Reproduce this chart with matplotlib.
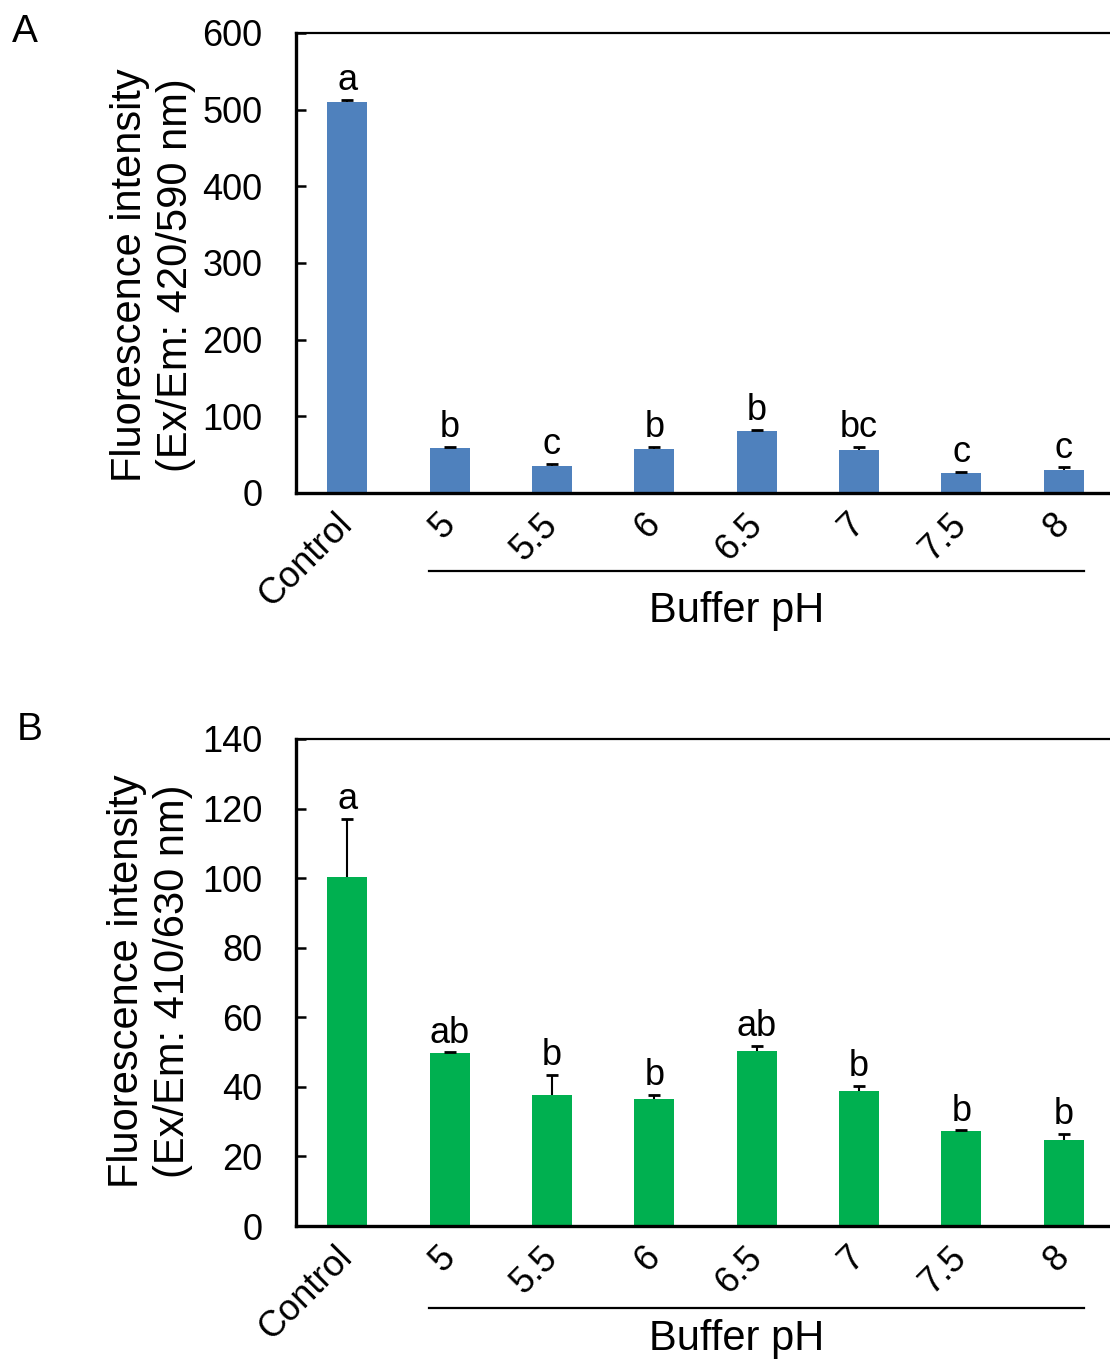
import matplotlib
matplotlib.use("Agg")
import matplotlib.pyplot as plt
import matplotlib.transforms as mtransforms
from matplotlib.lines import Line2D

plt.rcParams['font.family'] = ['Liberation Sans', 'DejaVu Sans']

categories = ["Control", "5", "5.5", "6", "6.5", "7", "7.5", "8"]

values_a = [510, 59, 35, 58, 81, 56, 25.5, 29.5]
errors_a = [3, 1.5, 3, 2, 1.3, 4, 2.5, 4]
letters_a = ["a", "b", "c", "b", "b", "bc", "c", "c"]
yticks_a = [0, 100, 200, 300, 400, 500, 600]

values_b = [100.4, 49.6, 37.6, 36.6, 50.4, 38.8, 27.2, 24.6]
errors_b = [16.6, 0.3, 5.8, 1.0, 1.3, 1.4, 0.3, 1.8]
letters_b = ["a", "ab", "b", "b", "ab", "b", "b", "b"]
yticks_b = [0, 20, 40, 60, 80, 100, 120, 140]

W, H = 1110, 1359
fig = plt.figure(figsize=(W / 100, H / 100), dpi=100)


def px_axes(left, top, right, bottom):
    return fig.add_axes([left / W, 1 - bottom / H, (right - left) / W, (bottom - top) / H])


def draw_panel(ax, vals, errs, letters, yticks, color, ylabel, ylabel_xy, label, label_xy,
               line_y, buffer_y):
    x = list(range(len(categories)))
    ax.bar(x, vals, width=0.39, color=color, edgecolor='none', zorder=2)
    eb = ax.errorbar(x, vals, yerr=[[0] * len(errs), errs], fmt='none', ecolor='black',
                     elinewidth=1.5, capsize=4.3, capthick=2, zorder=3)
    caplines = eb[1]
    if len(caplines) == 2:
        caplines[0].set_visible(False)
    for xi, v, e, t in zip(x, vals, errs, letters):
        ax.annotate(t, xy=(xi, v + e), xytext=(0, 7), textcoords='offset points',
                    ha='center', va='baseline', fontsize=26)
    ax.set_xlim(-0.5, len(categories) - 0.5)
    ax.set_ylim(yticks[0], yticks[-1])
    ax.set_yticks(yticks)
    ax.set_yticklabels([str(t) for t in yticks], fontsize=26)
    ax.tick_params(axis='y', direction='in', length=7, width=1.8, pad=24)
    ax.tick_params(axis='x', length=0, pad=19)
    ax.set_xticks(x)
    ax.set_xticklabels(categories, fontsize=26, rotation=45, ha='right', va='center',
                       rotation_mode='anchor')
    for s in ['left', 'bottom']:
        ax.spines[s].set_linewidth(2.4)
    for s in ['top', 'right']:
        ax.spines[s].set_linewidth(1.6)
    # group line under pH labels
    trans = mtransforms.blended_transform_factory(ax.transData, fig.transFigure)
    fig.add_artist(Line2D([1 - 0.2, 7 + 0.2], [1 - line_y / H] * 2, transform=trans,
                          color='black', lw=1.6))
    ax.text(3.8, 1 - buffer_y / H, "Buffer pH", transform=trans, ha='center',
            va='baseline', fontsize=30)
    fig.text(ylabel_xy[0] / W, 1 - ylabel_xy[1] / H, ylabel, rotation=90, ha='center',
             va='center', multialignment='center', fontsize=30, linespacing=1.2)
    fig.text(label_xy[0] / W, 1 - label_xy[1] / H, label, ha='left', va='baseline',
             fontsize=28)


ax_a = px_axes(296, 33, 1115, 493)
draw_panel(ax_a, values_a, errors_a, letters_a, yticks_a, '#4F81BD',
           "Fluorescence intensity\n(Ex/Em: 420/590 nm)", (153, 275), "A", (12, 42),
           571, 622)

ax_b = px_axes(296, 739, 1115, 1226)
draw_panel(ax_b, values_b, errors_b, letters_b, yticks_b, '#00B050',
           "Fluorescence intensity\n(Ex/Em: 410/630 nm)", (150, 981), "B", (17, 740),
           1308, 1350)

fig.savefig("out.png", dpi=100)
